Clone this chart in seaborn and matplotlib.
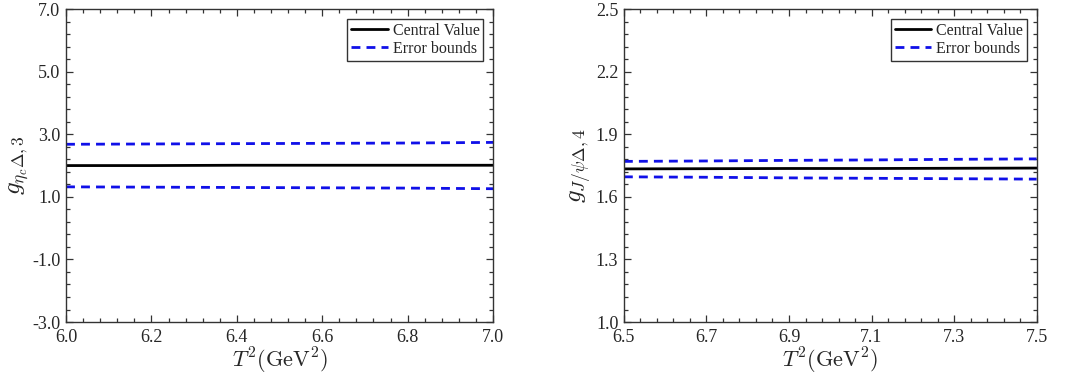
import matplotlib

matplotlib.use("Agg")

import matplotlib.pyplot as plt
import numpy as np
import pandas as pd
import seaborn as sns
from matplotlib.ticker import MultipleLocator, FormatStrFormatter

# left panel: g_{eta_c Delta,3}
t2_left = [6.0, 6.2, 6.4, 6.6, 6.8, 7.0]
central_left = [2.00, 2.00, 2.01, 2.01, 2.01, 2.01]
upper_left = [2.68, 2.69, 2.70, 2.71, 2.72, 2.74]
lower_left = [1.32, 1.31, 1.30, 1.29, 1.28, 1.26]

# right panel: g_{J/psi Delta,4}
t2_right = [6.5, 6.7, 6.9, 7.1, 7.3, 7.5]
central_right = [1.734, 1.735, 1.736, 1.736, 1.737, 1.738]
upper_right = [1.770, 1.772, 1.775, 1.777, 1.780, 1.782]
lower_right = [1.696, 1.694, 1.691, 1.689, 1.687, 1.685]

sns.set_theme(style="ticks")
plt.rcParams["font.family"] = ["Liberation Serif", "DejaVu Serif"]
plt.rcParams["mathtext.fontset"] = "cm"
plt.rcParams["axes.linewidth"] = 1.0
plt.rcParams["axes.edgecolor"] = "#333333"

DASH = (0, (3.2, 2.2))


def panel(ax, x, c, up, lo, ylim, yticks, xlim, xticks, ylabel):
    df = pd.DataFrame({"x": x, "c": c, "up": up, "lo": lo})
    sns.lineplot(data=df, x="x", y="c", ax=ax, color="black", lw=2, label="Central Value")
    sns.lineplot(data=df, x="x", y="up", ax=ax, color="#1010e8", lw=2, label="Error bounds")
    sns.lineplot(data=df, x="x", y="lo", ax=ax, color="#1010e8", lw=2)
    for line in ax.lines[1:]:
        line.set_linestyle(DASH)
    ax.set_xlim(*xlim)
    ax.set_ylim(*ylim)
    ax.xaxis.set_major_locator(MultipleLocator(*xticks[0]))
    ax.xaxis.set_minor_locator(MultipleLocator(*xticks[1]))
    ax.yaxis.set_major_locator(MultipleLocator(*yticks[0]))
    ax.yaxis.set_minor_locator(MultipleLocator(*yticks[1]))
    ax.xaxis.set_major_formatter(FormatStrFormatter("%.1f"))
    ax.yaxis.set_major_formatter(FormatStrFormatter("%.1f"))
    ax.tick_params(which="both", direction="in", top=True, right=True, labelsize=13,
                   color="#333333", width=0.9)
    ax.tick_params(which="major", length=5, pad=4)
    ax.tick_params(which="minor", length=3)
    ax.tick_params(axis="x", pad=5)
    ax.set_xlabel(r"$T^2(\mathrm{GeV}^2)$", fontsize=16, labelpad=0)
    ax.set_ylabel(ylabel, fontsize=18, labelpad=1)
    leg = ax.legend(loc="upper right", fontsize=11.5, frameon=True, fancybox=False,
                    borderpad=0.25, handlelength=2.3, handletextpad=0.3,
                    labelspacing=0.15, borderaxespad=0.6)
    leg.get_frame().set_edgecolor("black")
    leg.get_frame().set_linewidth(1.0)
    leg.get_lines()[1].set_linestyle(DASH)


fig = plt.figure(figsize=(10.72, 3.78), dpi=100)
ax1 = fig.add_axes([0.0616, 0.148, 0.3983, 0.828])
ax2 = fig.add_axes([0.582, 0.148, 0.385, 0.828])

panel(ax1, t2_left, central_left, upper_left, lower_left, (-3.0, 7.0),
      ((2.0, 1.0), (0.4, 0.2)), (6.0, 7.0), ((0.2, 0.0), (0.04, 0.0)),
      r"$g_{\eta_c\Delta,3}$")
panel(ax2, t2_right, central_right, upper_right, lower_right, (1.0, 2.5),
      ((0.3, 0.1), (0.06, 0.04)), (6.5, 7.5), ((0.2, 0.1), (0.04, 0.02)),
      r"$g_{J/\psi\Delta,4}$")

fig.savefig("out.png", dpi=100)
